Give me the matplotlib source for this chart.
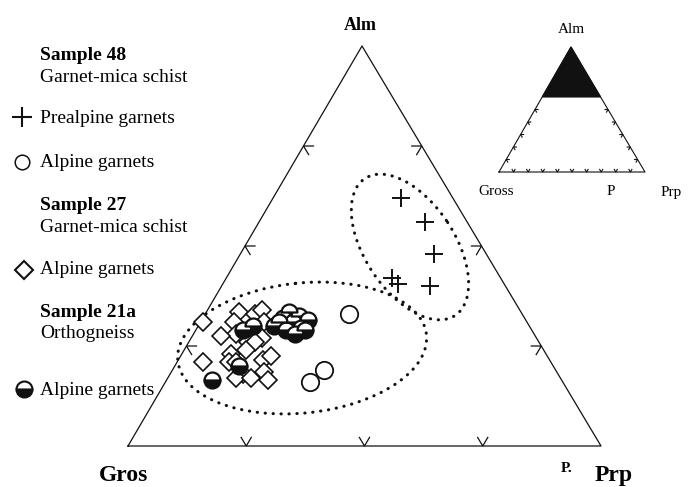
import numpy as np
import matplotlib.pyplot as plt
from matplotlib.patches import Ellipse, Polygon

plt.rcParams['font.family'] = ['Liberation Serif', 'DejaVu Serif']

# garnet compositions in mol%, almandine and pyrope (grossular is the rest)
prealpine48_alm = [62, 56, 48, 42, 40.5, 40]
prealpine48_prp = [27, 35, 41, 35, 37, 44]

alpine48_alm = [33, 16, 19]
alpine48_prp = [30.5, 30.5, 32]

alpine27_alm = [31, 33.5, 31, 28, 33, 34, 31, 27, 27, 26, 26, 21, 23, 21, 21, 18, 17, 21.5, 18.5,
                16.5, 17, 27.5, 24, 22.5]
alpine27_prp = [0.5, 7, 7, 9, 10.5, 11.5, 13.5, 13, 15, 12.5, 14, 5.5, 10.5, 11, 12.5, 15.5, 14.5,
                18, 19.5, 21.5, 17.5, 6, 13, 19]

alpine21a_alm = [16.5, 20, 29, 30, 30, 32, 29, 31, 32.5, 29.5, 28, 31.5, 31, 29, 33.5]
alpine21a_prp = [9.5, 13.5, 10, 11.5, 16, 17, 19, 19.5, 20, 22, 21.5, 22.5, 16.5, 23, 17.5]

# dotted fields: centre (alm, prp) in mol%
field_alm = [49.75, 24.5]
field_prp = [35, 24.7]

corner_names = ["Gros", "Prp", "Alm"]
inset_names = ["Gross", "Prp", "Alm"]

INK = "#111111"

# triangle corners (Gros, Prp, Alm) in figure pixels
main_frame = [(128, 446), (601, 446), (362, 46)]
inset_frame = [(499, 172), (645, 172), (571, 47)]


def tern(alm, prp, frame):
  g, p, a = frame
  alm = np.asarray(alm, float) / 100.0
  prp = np.asarray(prp, float) / 100.0
  grs = 1 - alm - prp
  x = grs * g[0] + prp * p[0] + alm * a[0]
  y = grs * g[1] + prp * p[1] + alm * a[1]
  return x, y


def draw_triangle(ax, frame, side_fracs, length, lw):
  pts = [np.array(c, float) for c in frame]
  xs = [c[0] for c in pts] + [pts[0][0]]
  ys = [c[1] for c in pts] + [pts[0][1]]
  ax.plot(xs, ys, "-", color=INK, lw=lw)

  # V shaped ticks, arms parallel to the other two sides
  for (i, j, k), fracs in zip([(0, 1, 2), (0, 2, 1), (1, 2, 0)], side_fracs):
    c1, c2, c3 = pts[i], pts[j], pts[k]
    d1 = (c3 - c1) / np.linalg.norm(c3 - c1)
    d2 = (c3 - c2) / np.linalg.norm(c3 - c2)
    for f in fracs:
      v = c1 + f * (c2 - c1)
      arm = np.array([v + d1 * length, v, v + d2 * length])
      ax.plot(arm[:, 0], arm[:, 1], "-", color=INK, lw=lw)


fig = plt.figure(figsize=(6.91, 4.87), dpi=100)
ax = fig.add_axes([0, 0, 1, 1])
ax.set_xlim(0, 691)
ax.set_ylim(487, 0)
ax.axis("off")

# main triangle
draw_triangle(ax, main_frame, [[0.25, 0.5, 0.75]] * 3, 10, 0.9)

# dotted fields
cx, cy = tern(field_alm, field_prp, main_frame)
for x, y, w, h, ang in zip(cx, cy, [164, 250], [90, 130], [56.7, -6]):
  e = Ellipse((x, y), w, h, angle=ang, fill=False, ec=INK, lw=2.2,
              ls=(0, (0.1, 2.5)))
  e.set_capstyle("round")
  ax.add_patch(e)

# data
x, y = tern(alpine27_alm, alpine27_prp, main_frame)
ax.plot(x, y, "D", ms=9.3, mfc="white", mec=INK, mew=1.2, ls="none")

x, y = tern(alpine21a_alm, alpine21a_prp, main_frame)
ax.plot(x, y, "o", ms=11.5, fillstyle="bottom", mfc=INK, mfcalt="white",
        mec=INK, mew=1.6, ls="none")

x, y = tern(alpine48_alm, alpine48_prp, main_frame)
ax.plot(x, y, "o", ms=12.5, mfc="white", mec=INK, mew=1.3, ls="none")

x, y = tern(prealpine48_alm, prealpine48_prp, main_frame)
ax.plot(x, y, "+", ms=13.5, mec=INK, mew=1.4, ls="none")

# corner labels
ax.text(360, 30, corner_names[2], fontsize=13, fontweight="bold", ha="center", va="baseline")
ax.text(99, 481, corner_names[0], fontsize=17, fontweight="bold", ha="left", va="baseline")
ax.text(595, 481, corner_names[1], fontsize=17, fontweight="bold", ha="left", va="baseline")
ax.text(561, 472, "P.", fontsize=11, fontweight="bold", ha="left", va="baseline")

# inset: Alm > 60 % field
top = np.array(tern([100, 60, 60], [0, 0, 40], inset_frame)).T
ax.add_patch(Polygon(top, closed=True, fc=INK, ec=INK, lw=0.8))
base_fr = [i / 10 for i in range(1, 10)]
side_fr = [i / 10 for i in range(1, 6)]
draw_triangle(ax, inset_frame, [base_fr, side_fr, side_fr], 3, 0.8)
ax.text(571, 33, inset_names[2], fontsize=11, ha="center", va="baseline")
ax.text(478, 195, inset_names[0], fontsize=11, ha="left", va="baseline")
ax.text(607, 195, "P", fontsize=11, ha="left", va="baseline")
ax.text(661, 196, inset_names[1], fontsize=11, ha="left", va="baseline")

# legend block
ax.text(40, 60, "Sample 48", fontsize=14, fontweight="bold", va="baseline")
ax.text(40, 82, "Garnet-mica schist", fontsize=14, va="baseline")
ax.plot([22], [117], "+", ms=14, mec=INK, mew=1.5)
ax.text(40, 123, "Prealpine garnets", fontsize=14, va="baseline")
ax.plot([22], [162], "o", ms=10.5, mfc="white", mec=INK, mew=1.1)
ax.text(40, 167, "Alpine garnets", fontsize=14, va="baseline")

ax.text(40, 210, "Sample 27", fontsize=14, fontweight="bold", va="baseline")
ax.text(40, 232, "Garnet-mica schist", fontsize=14, va="baseline")
ax.plot([24], [270], "D", ms=9.2, mfc="white", mec=INK, mew=1.5)
ax.text(40, 274, "Alpine garnets", fontsize=14, va="baseline")

ax.text(40, 317, "Sample 21a", fontsize=14, fontweight="bold", va="baseline")
ax.text(40, 338, "Orthogneiss", fontsize=14, va="baseline")
ax.plot([24], [389], "o", ms=11.5, fillstyle="bottom", mfc=INK, mfcalt="white",
        mec=INK, mew=1.5)
ax.text(40, 395, "Alpine garnets", fontsize=14, va="baseline")

fig.savefig("out.png", dpi=100)
